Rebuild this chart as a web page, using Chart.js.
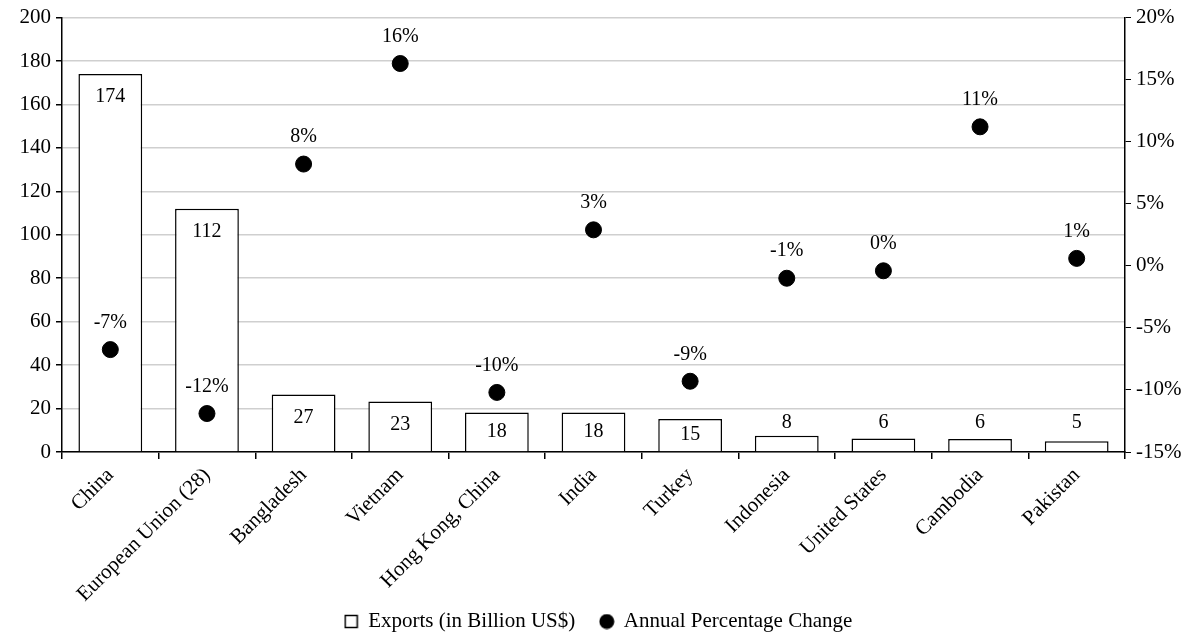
<!DOCTYPE html>
<html>
<head>
<meta charset="utf-8">
<script src="https://cdn.jsdelivr.net/npm/chart.js@4"></script>
<style>
html,body{margin:0;padding:0;background:#fff;}
#wrap{width:1197px;height:635px;position:relative;}
</style>
</head>
<body>
<div id="wrap"><canvas id="c" width="1197" height="635"></canvas></div>
<script>
const categories = ["China","European Union (28)","Bangladesh","Vietnam","Hong Kong, China","India","Turkey","Indonesia","United States","Cambodia","Pakistan"];
const exportsBn = [174, 112, 26.5, 23.3, 18.2, 18.2, 15.2, 7.5, 6.2, 6.0, 5.0];
const pctChange = [-6.75, -11.9, 8.2, 16.3, -10.2, 2.9, -9.3, -1.0, -0.4, 11.2, 0.6];
const leftTicks = [0, 20, 40, 60, 80, 100, 120, 140, 160, 180, 200];
const rightTicks = [-15, -10, -5, 0, 5, 10, 15, 20];

const FONT = "'Liberation Serif', 'Times New Roman', serif";

function makeSquareIcon() {
  const c = document.createElement('canvas');
  c.width = 15; c.height = 15;
  const g = c.getContext('2d');
  g.fillStyle = '#fff'; g.fillRect(0, 0, 15, 15);
  g.strokeStyle = '#000'; g.lineWidth = 1.5;
  g.strokeRect(1.5, 1.5, 12, 12);
  return c;
}
function makeCircleIcon() {
  const c = document.createElement('canvas');
  c.width = 16; c.height = 16;
  const g = c.getContext('2d');
  g.fillStyle = '#000';
  g.beginPath(); g.arc(8, 8, 7.5, 0, Math.PI * 2); g.fill();
  return c;
}
const legendIcons = [makeSquareIcon(), makeCircleIcon()];

const labelPlugin = {
  id: 'valueLabels',
  afterDatasetsDraw(chart) {
    const ctx = chart.ctx;
    ctx.save();
    ctx.font = "20px " + FONT;
    ctx.fillStyle = '#000';
    ctx.textAlign = 'center';
    ctx.textBaseline = 'middle';
    const barMeta = chart.getDatasetMeta(0);
    barMeta.data.forEach((bar, i) => {
      const top = bar.y, bottom = bar.base;
      const h = bottom - top;
      let y;
      if (h >= 30) y = Math.min(top + 23, (top + bottom) / 2);
      else y = bottom - 29;
      ctx.fillText(String(Math.round(exportsBn[i])), bar.x, y);
    });
    const ptMeta = chart.getDatasetMeta(1);
    ptMeta.data.forEach((pt, i) => {
      const v = Math.round(pctChange[i]);
      ctx.fillText((v === 0 ? 0 : v) + '%', pt.x, pt.y - 27);
    });
    ctx.restore();
  }
};

new Chart(document.getElementById('c'), {
  data: {
    labels: categories,
    datasets: [
      {
        type: 'bar',
        label: 'Exports (in Billion US$)',
        data: exportsBn,
        backgroundColor: '#ffffff',
        borderColor: '#000000',
        borderWidth: 1.5,
        categoryPercentage: 1.0,
        barPercentage: 0.66,
        yAxisID: 'y',
        order: 2
      },
      {
        type: 'line',
        label: 'Annual Percentage Change',
        data: pctChange,
        showLine: false,
        pointRadius: 8,
        pointHoverRadius: 8,
        pointBackgroundColor: '#000',
        pointBorderColor: '#000',
        backgroundColor: '#000',
        borderColor: '#000',
        pointStyle: 'circle',
        yAxisID: 'y1',
        order: 1
      }
    ]
  },
  options: {
    responsive: false,
    animation: false,
    layout: { padding: { top: 9, bottom: -7, left: 0, right: 0 } },
    plugins: {
      legend: {
        position: 'bottom',
        labels: {
          usePointStyle: true,
          boxWidth: 13,
          boxHeight: 13,
          padding: 4,
          color: '#000',
          font: { family: FONT, size: 21 },
          sort: (a, b) => a.datasetIndex - b.datasetIndex,
          generateLabels(chart) {
            const items = Chart.defaults.plugins.legend.labels.generateLabels(chart);
            items.forEach(it => {
              it.pointStyle = legendIcons[it.datasetIndex];
              if (it.datasetIndex === 0) it.text = it.text + '    ';
            });
            return items;
          }
        }
      },
      tooltip: { enabled: false }
    },
    scales: {
      x: {
        offset: true,
        grid: { display: true, offset: true, drawOnChartArea: false, drawTicks: true, tickLength: 7, color: '#000', lineWidth: 1.5 },
        border: { display: true, color: '#000', width: 1.5 },
        ticks: { color: '#000', font: { family: FONT, size: 21 }, maxRotation: 45, minRotation: 45, autoSkip: false, padding: 4 },
        afterFit(s) { s.height = 155; }
      },
      y: {
        position: 'left',
        min: 0, max: 200,
        afterBuildTicks(s) { s.ticks = leftTicks.map(v => ({ value: v })); },
        grid: { color: '#cfcfcf', lineWidth: 1.5, tickLength: 6, tickColor: '#000', drawTicks: true },
        border: { display: true, color: '#000', width: 1.5 },
        ticks: { color: '#000', font: { family: FONT, size: 21 }, padding: 5 },
        afterFit(s) { s.width = 62; }
      },
      y1: {
        position: 'right',
        min: -15, max: 20,
        afterBuildTicks(s) { s.ticks = rightTicks.map(v => ({ value: v })); },
        grid: { drawOnChartArea: false, tickLength: 6, color: '#000', drawTicks: true },
        border: { display: true, color: '#000', width: 1.5 },
        ticks: { color: '#000', font: { family: FONT, size: 21 }, padding: 5, callback: v => v + '%' },
        afterFit(s) { s.width = 72; }
      }
    }
  },
  plugins: [labelPlugin]
});
</script>
</body>
</html>
